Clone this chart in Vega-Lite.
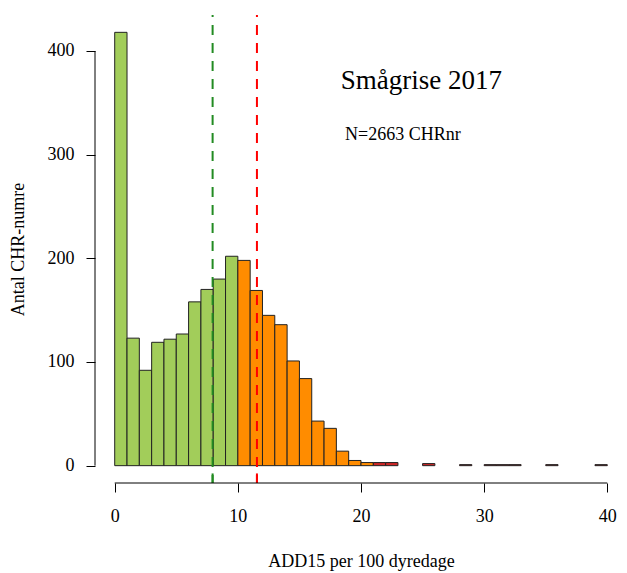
{
  "$schema": "https://vega.github.io/schema/vega-lite/v6.json",
  "autosize": {"type": "none"},
  "padding": {"left": 95, "top": 15, "right": 0, "bottom": 90},
  "width": 532,
  "height": 468,
  "background": "white",
  "config": {
    "view": {"stroke": null},
    "font": "Liberation Serif",
    "axis": {
      "labelFont": "Liberation Serif",
      "titleFont": "Liberation Serif",
      "labelFontSize": 18,
      "titleFontSize": 18,
      "titleFontWeight": "normal",
      "labelColor": "black",
      "titleColor": "black",
      "tickColor": "black",
      "grid": false,
      "domain": false,
      "tickSize": 9
    }
  },
  "resolve": {"scale": {"color": "independent"}},
  "datasets": {
    "bins": [
      {"start": 0, "end": 1, "count": 418, "group": "low"},
      {"start": 1, "end": 2, "count": 123, "group": "low"},
      {"start": 2, "end": 3, "count": 92, "group": "low"},
      {"start": 3, "end": 4, "count": 119, "group": "low"},
      {"start": 4, "end": 5, "count": 122, "group": "low"},
      {"start": 5, "end": 6, "count": 127, "group": "low"},
      {"start": 6, "end": 7, "count": 158, "group": "low"},
      {"start": 7, "end": 8, "count": 170, "group": "low"},
      {"start": 8, "end": 9, "count": 180, "group": "low"},
      {"start": 9, "end": 10, "count": 202, "group": "low"},
      {"start": 10, "end": 11, "count": 198, "group": "mid"},
      {"start": 11, "end": 12, "count": 169, "group": "mid"},
      {"start": 12, "end": 13, "count": 145, "group": "mid"},
      {"start": 13, "end": 14, "count": 136, "group": "mid"},
      {"start": 14, "end": 15, "count": 101, "group": "mid"},
      {"start": 15, "end": 16, "count": 84, "group": "mid"},
      {"start": 16, "end": 17, "count": 43, "group": "mid"},
      {"start": 17, "end": 18, "count": 36, "group": "mid"},
      {"start": 18, "end": 19, "count": 14, "group": "mid"},
      {"start": 19, "end": 20, "count": 5, "group": "mid"},
      {"start": 20, "end": 21, "count": 3, "group": "mid"},
      {"start": 21, "end": 22, "count": 3, "group": "high"},
      {"start": 22, "end": 23, "count": 3, "group": "high"},
      {"start": 25, "end": 26, "count": 2, "group": "high"},
      {"start": 28, "end": 29, "count": 1, "group": "high"},
      {"start": 30, "end": 31, "count": 1, "group": "high"},
      {"start": 31, "end": 32, "count": 1, "group": "high"},
      {"start": 32, "end": 33, "count": 1, "group": "high"},
      {"start": 35, "end": 36, "count": 1, "group": "high"},
      {"start": 39, "end": 40, "count": 1, "group": "high"}
    ],
    "refs": [
      {"value": 7.95, "kind": "green"},
      {"value": 11.55, "kind": "red"}
    ],
    "xline": [{"from": 0, "to": 40, "at": -16.72}],
    "yline": [{"from": 0, "to": 400, "at": -1.6}],
    "texts": [
      {"x": 18.35, "y": 363, "label": "Smågrise 2017", "size": 27},
      {"x": 18.7, "y": 314, "label": "N=2663 CHRnr", "size": 18}
    ]
  },
  "layer": [
    {
      "data": {"name": "bins"},
      "mark": {"type": "bar", "stroke": "#222222", "strokeWidth": 1},
      "encoding": {
        "x": {
          "field": "start", "type": "quantitative",
          "scale": {"domain": [-1.6, 41.6], "nice": false, "zero": false},
          "axis": {"values": [0, 10, 20, 30, 40], "labelPadding": 15, "labelFont": "Liberation Serif", "titleFont": "Liberation Serif", "title": "ADD15 per 100 dyredage", "titlePadding": 27, "labelFlush": false}
        },
        "x2": {"field": "end"},
        "y": {
          "field": "count", "type": "quantitative",
          "scale": {"domain": [-16.72, 434.72], "nice": false, "zero": false},
          "axis": {"values": [0, 100, 200, 300, 400], "labelPadding": 12, "labelFont": "Liberation Serif", "titleFont": "Liberation Serif", "title": "Antal CHR-numre", "titlePadding": 20, "labelFlush": false}
        },
        "y2": {"datum": 0},
        "color": {
          "field": "group", "type": "nominal",
          "scale": {"domain": ["low", "mid", "high"], "range": ["#A2CD5A", "#FF8C00", "#CD2626"]},
          "legend": null
        }
      }
    },
    {
      "data": {"name": "refs"},
      "mark": {"type": "rule", "strokeWidth": 2, "strokeDash": [10, 8], "strokeDashOffset": 8},
      "encoding": {
        "x": {"field": "value", "type": "quantitative"},
        "stroke": {"field": "kind", "type": "nominal", "scale": {"domain": ["green", "red"], "range": ["#228B22", "#FF0000"]}, "legend": null}
      }
    },
    {
      "data": {"name": "refs"},
      "mark": {"type": "rule", "strokeWidth": 2},
      "encoding": {
        "x": {"field": "value", "type": "quantitative"},
        "y": {"datum": -16.72},
        "y2": {"datum": -7.5},
        "stroke": {"field": "kind", "type": "nominal", "scale": {"domain": ["green", "red"], "range": ["#228B22", "#FF0000"]}, "legend": null}
      }
    },
    {
      "data": {"name": "xline"},
      "mark": {"type": "rule", "color": "black", "strokeWidth": 1},
      "encoding": {
        "x": {"field": "from", "type": "quantitative"},
        "x2": {"field": "to"},
        "y": {"field": "at", "type": "quantitative"}
      }
    },
    {
      "data": {"name": "yline"},
      "mark": {"type": "rule", "color": "black", "strokeWidth": 1},
      "encoding": {
        "y": {"field": "from", "type": "quantitative"},
        "y2": {"field": "to"},
        "x": {"field": "at", "type": "quantitative"}
      }
    },
    {
      "data": {"name": "texts"},
      "mark": {"type": "text", "align": "left", "baseline": "alphabetic", "font": "Liberation Serif", "color": "black"},
      "encoding": {
        "x": {"field": "x", "type": "quantitative"},
        "y": {"field": "y", "type": "quantitative"},
        "text": {"field": "label"},
        "size": {"field": "size", "type": "quantitative", "scale": null}
      }
    }
  ]
}
